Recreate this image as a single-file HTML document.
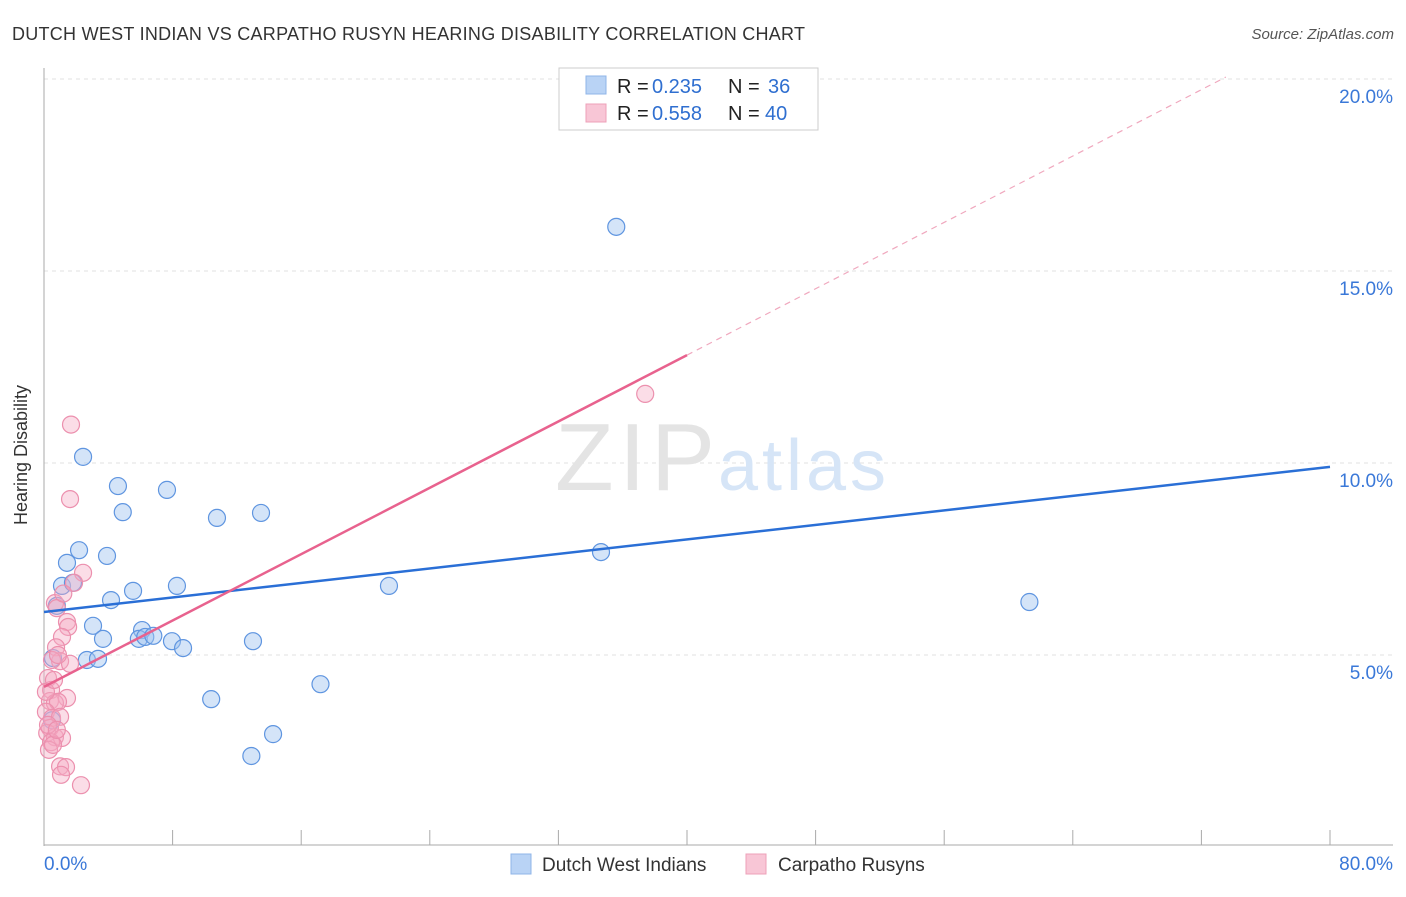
<!DOCTYPE html>
<html><head><meta charset="utf-8"><style>
body{margin:0;background:#fff;font-family:"Liberation Sans",sans-serif}
svg text{font-family:"Liberation Sans",sans-serif}
</style></head><body>
<svg width="1406" height="892" xmlns="http://www.w3.org/2000/svg">
<text x="12" y="40" font-size="18" fill="#333" textLength="793">DUTCH WEST INDIAN VS CARPATHO RUSYN HEARING DISABILITY CORRELATION CHART</text>
<text x="1394" y="39" font-size="15" fill="#555" text-anchor="end" font-style="italic">Source: ZipAtlas.com</text>
<g id="grid"></g>
<g>
<text x="555" y="490" font-size="96" fill="#e4e4e4" font-family="Liberation Serif" textLength="160">ZIP</text>
<text x="718" y="490" font-size="72" fill="#d6e5f7" textLength="168">atlas</text>
</g>
<g id="marks"></g>
<text x="27" y="455" font-size="18" fill="#333" text-anchor="middle" transform="rotate(-90 27 455)">Hearing Disability</text>
<g>
<rect x="559" y="68" width="259" height="62" fill="#fff" stroke="#ccc"/>
<rect x="586" y="76" width="20" height="18" fill="#b9d3f5" stroke="#8fb4e8"/>
<rect x="586" y="104" width="20" height="18" fill="#f8c6d6" stroke="#eea0b8"/>
<text x="617" y="93" font-size="20" fill="#222">R =</text>
<text x="652" y="93" font-size="20" fill="#2f6fd0">0.235</text>
<text x="728" y="93" font-size="20" fill="#222">N =</text>
<text x="768" y="93" font-size="20" fill="#2f6fd0">36</text>
<text x="617" y="120" font-size="20" fill="#222">R =</text>
<text x="652" y="120" font-size="20" fill="#2f6fd0">0.558</text>
<text x="728" y="120" font-size="20" fill="#222">N =</text>
<text x="765" y="120" font-size="20" fill="#2f6fd0">40</text>
</g>
<g>
<rect x="511" y="854" width="20" height="20" fill="#b9d3f5" stroke="#8fb4e8"/>
<text x="542" y="871" font-size="19" fill="#333">Dutch West Indians</text>
<rect x="746" y="854" width="20" height="20" fill="#f8c6d6" stroke="#eea0b8"/>
<text x="778" y="871" font-size="19" fill="#333">Carpatho Rusyns</text>
</g>
</svg>
<script>
const yTicks=[5,10,15,20];
const yTickLabels=["5.0%","10.0%","15.0%","20.0%"];
const xTickLabels=["0.0%","80.0%"];
const blueX=[35.6,2.43,4.6,7.65,4.9,10.76,13.5,2.18,3.92,1.43,34.65,1.12,1.8,5.54,8.27,21.46,4.17,0.8,61.3,3.05,3.67,6.1,5.9,6.3,6.8,7.96,8.65,13.0,2.67,3.36,0.56,10.4,17.2,14.25,12.9,0.5];
const blueY=[16.15,10.16,9.4,9.3,8.72,8.57,8.7,7.73,7.58,7.4,7.68,6.8,6.88,6.67,6.8,6.8,6.43,6.28,6.38,5.76,5.42,5.65,5.42,5.47,5.5,5.36,5.18,5.36,4.87,4.9,4.92,3.85,4.24,2.94,2.37,3.3];
const pinkX=[1.68,1.62,37.4,2.43,1.87,0.68,0.8,1.43,1.5,1.12,0.75,1.0,1.62,0.5,0.25,0.44,1.43,0.37,0.68,0.87,0.12,0.5,1.0,0.37,0.2,0.68,1.12,0.44,0.31,1.0,1.37,1.06,2.3,0.12,0.62,0.87,1.2,0.25,0.56,0.8];
const pinkY=[11.0,9.06,11.8,7.14,6.88,6.35,6.22,5.86,5.73,5.47,5.2,4.84,4.77,4.87,4.4,4.09,3.88,3.8,3.75,3.78,3.52,3.36,3.39,3.1,2.97,2.86,2.84,2.73,2.53,2.1,2.08,1.88,1.61,4.04,4.35,5.0,6.6,3.18,2.66,3.05];
const blueLine=[6.12,9.9];   // y at x=0 and x=80
const pinkLine=[4.17,0.216]; // intercept, slope
const NS="http://www.w3.org/2000/svg";
const X=v=>44+v*16.075, Y=v=>847-v*38.4;
function mk(p,t,a){const e=document.createElementNS(NS,t);for(const k in a)e.setAttribute(k,a[k]);p.appendChild(e);return e;}
const grid=document.getElementById('grid'), marks=document.getElementById('marks');
yTicks.forEach((t,i)=>{
 const l=mk(grid,'line',{x1:44,x2:1393,y1:Y(t),y2:Y(t),stroke:'#e2e2e2','stroke-dasharray':'4,4'});
 
 
 const tx=mk(grid,'text',{x:1393,y:Y(t)+24,'font-size':19,fill:'#3a78d8','text-anchor':'end'});tx.textContent=yTickLabels[i];
 
 
});
let ax=mk(grid,'line',{x1:44,x2:44,y1:68,y2:846,stroke:'#aaa'});


ax=mk(grid,'line',{x1:44,x2:1393,y1:845,y2:845,stroke:'#aaa'});


for(let i=0;i<=10;i++){const t=mk(grid,'line',{x1:X(i*8),x2:X(i*8),y1:830,y2:845,stroke:'#aaa'});
 
 }
[[0,'start',44],[80,'end',1393]].forEach((d,i)=>{const t=mk(grid,'text',{x:d[2],y:870,'font-size':19,fill:'#3a78d8','text-anchor':d[1]});t.textContent=xTickLabels[i];
 
 });
blueX.forEach((x,i)=>{const c=mk(marks,'circle',{cx:X(x),cy:Y(blueY[i]),r:8.5,fill:'rgba(160,195,240,0.45)',stroke:'#5f95e0','stroke-width':1.2});
 
 });
pinkX.forEach((x,i)=>{const c=mk(marks,'circle',{cx:X(x),cy:Y(pinkY[i]),r:8.5,fill:'rgba(245,170,195,0.4)',stroke:'#ec90ae','stroke-width':1.2});
 
 });
let ln=mk(marks,'line',{x1:X(0),y1:Y(blueLine[0]),x2:X(80),y2:Y(blueLine[1]),stroke:'#2a6fd6','stroke-width':2.5});


const xEnd=(20.05-pinkLine[0])/pinkLine[1];
ln=mk(marks,'line',{x1:X(40),y1:Y(pinkLine[0]+40*pinkLine[1]),x2:X(xEnd),y2:Y(pinkLine[0]+xEnd*pinkLine[1]),stroke:'#f0a8be','stroke-width':1.2,'stroke-dasharray':'6,5'});


ln=mk(marks,'line',{x1:X(0),y1:Y(pinkLine[0]),x2:X(40),y2:Y(pinkLine[0]+40*pinkLine[1]),stroke:'#e8628e','stroke-width':2.5});


</script>
</body></html>
